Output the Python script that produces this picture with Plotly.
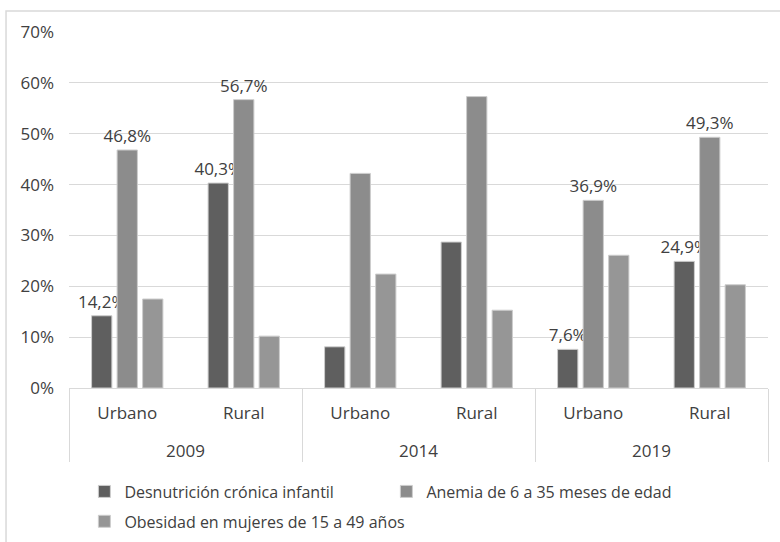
import plotly.graph_objects as go

# categories (two-level x axis)
years = ["2009", "2009", "2014", "2014", "2019", "2019"]
areas = ["Urbano", "Rural", "Urbano", "Rural", "Urbano", "Rural"]

# series values (fractions)
desnutricion = [0.142, 0.403, 0.081, 0.287, 0.076, 0.249]
anemia = [0.468, 0.567, 0.422, 0.573, 0.369, 0.493]
obesidad = [0.175, 0.102, 0.224, 0.153, 0.261, 0.203]

# which bars carry a data label
lab_desn = [True, True, False, False, True, True]
lab_anem = [True, True, False, False, True, True]

names = ["Desnutrición crónica infantil",
         "Anemia de 6 a 35 meses de edad",
         "Obesidad en mujeres de 15 a 49 años"]
colors = ["rgb(95,95,95)", "rgb(140,140,140)", "rgb(150,150,150)"]

FONT = "Open Sans"
TXT = "rgb(64,64,64)"


def tt(flags):
    return ["%{y:.1%}" if f else "" for f in flags]


# year row sits one line lower, like the Excel two-level axis
year_lbl = ["<br>" + y for y in years]

fig = go.Figure()
series = [(desnutricion, tt(lab_desn), "legend"),
          (anemia, tt(lab_anem), "legend"),
          (obesidad, [""] * 6, "legend2")]
for i, (vals, tmpl, leg) in enumerate(series):
    fig.add_trace(go.Bar(
        x=[year_lbl, areas], y=vals, name=names[i],
        marker=dict(color=colors[i], line=dict(color="rgb(205,205,205)", width=1)),
        texttemplate=tmpl, textposition="outside", cliponaxis=False,
        constraintext="none",
        textfont=dict(family=FONT, size=17, color=TXT),
        legend=leg, hoverinfo="skip"))

fig.update_layout(
    width=780, height=542,
    margin=dict(l=69, r=12, t=32, b=154, autoexpand=False),
    paper_bgcolor="white", plot_bgcolor="white",
    separators=",.",
    barmode="group", bargap=0.343, bargroupgap=0.204,
    font=dict(family=FONT, size=17, color=TXT),
    legend=dict(orientation="h", x=0.022, xanchor="left", y=-0.243, yanchor="top",
                font=dict(family=FONT, size=16, color=TXT),
                entrywidth=257, entrywidthmode="pixels", bgcolor="rgba(0,0,0,0)"),
    legend2=dict(orientation="h", x=0.022, xanchor="left", y=-0.327, yanchor="top",
                 font=dict(family=FONT, size=16, color=TXT), bgcolor="rgba(0,0,0,0)"),
    showlegend=True,
)

fig.update_yaxes(range=[0, 0.7], dtick=0.1, tickformat=".0%", automargin=False,
                 showgrid=True, gridcolor="rgb(217,217,217)", gridwidth=1,
                 zeroline=False, showline=False, ticks="", ticklabelstandoff=14,
                 tickfont=dict(family=FONT, size=17, color=TXT))
fig.update_xaxes(type="multicategory", showline=True, linecolor="rgb(217,217,217)",
                 automargin=False, ticks="", ticklabelstandoff=10,
                 showdividers=True, dividercolor="rgb(217,217,217)",
                 dividerwidth=1, tickfont=dict(family=FONT, size=17, color=TXT))

# chart-area border (Excel style, cropped at right/bottom)
fig.add_shape(type="rect", xref="paper", yref="paper",
              x0=-0.0901, x1=1.03, y0=-0.46, y1=1.059,
              line=dict(color="rgb(217,217,217)", width=1.5), layer="below")

fig.write_html("out.html", config={"displayModeBar": False},
               post_script="document.body.style.margin='0';"
                           "document.body.style.overflow='hidden';")
